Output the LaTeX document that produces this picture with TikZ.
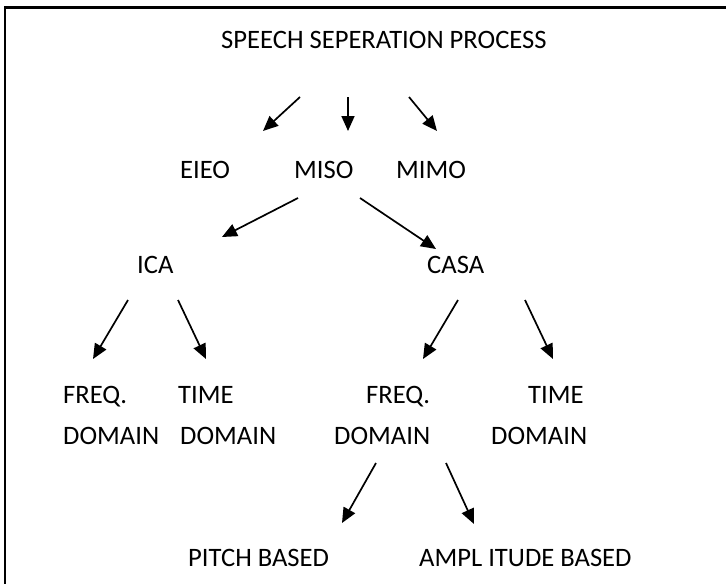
\documentclass[tikz,border=0pt]{standalone}
\usepackage{fontspec}
\setmainfont{Carlito}
\usetikzlibrary{arrows.meta}
\begin{document}
\begin{tikzpicture}[x=1pt,y=-1pt,
  lbl/.style={anchor=base west,inner sep=0pt,font=\fontsize{26.6}{32}\selectfont},
  arr/.style={line width=1.7pt,-{Triangle[length=15pt,width=13pt]}}]
\useasboundingbox (0,0) rectangle (726,584);
% frame (top and left edges)
\draw[line width=2.5pt] (5.2,584) -- (5.2,7.3) -- (726,7.3);

% labels
\node[lbl] (title) at (221,48) {SPEECH SEPERATION PROCESS};
\node[lbl] (eieo) at (180,178) {EIEO};
\node[lbl] (miso) at (294,178) {MISO};
\node[lbl] (mimo) at (396,178) {MIMO};
\node[lbl] (ica)  at (137,273) {ICA};
\node[lbl] (casa) at (427,273) {CASA};
\node[lbl] (icafreq)  at (63,403)  {FREQ.};
\node[lbl] (icafreqb) at (63,444)  {DOMAIN};
\node[lbl] (icatime)  at (178,403) {TIME};
\node[lbl] (icatimeb) at (180,444) {DOMAIN};
\node[lbl] (casafreq)  at (366,403) {FREQ.};
\node[lbl] (casafreqb) at (334,444) {DOMAIN};
\node[lbl] (casatime)  at (528,403) {TIME};
\node[lbl] (casatimeb) at (491,444) {DOMAIN};
\node[lbl] (pitch) at (188,566) {PITCH BASED};
\node[lbl] (ampl)  at (419,566) {AMPL ITUDE BASED};

% arrow end points
\coordinate (t1s) at (300,97);  \coordinate (t1e) at (263,131);
\coordinate (t2s) at (348,97);  \coordinate (t2e) at (348,131);
\coordinate (t3s) at (409,97);  \coordinate (t3e) at (437,131);
\coordinate (m1s) at (298,198); \coordinate (m1e) at (222,237);
\coordinate (m2s) at (360,198); \coordinate (m2e) at (436,249);
\coordinate (i1s) at (128,300); \coordinate (i1e) at (93,359);
\coordinate (i2s) at (178,300); \coordinate (i2e) at (206,359);
\coordinate (c1s) at (458,300); \coordinate (c1e) at (423,359);
\coordinate (c2s) at (525,300); \coordinate (c2e) at (553,359);
\coordinate (f1s) at (376,463); \coordinate (f1e) at (342,523);
\coordinate (f2s) at (446,463); \coordinate (f2e) at (474,524);

% arrows
\foreach \a in {t1,t2,t3,m1,m2,i1,i2,c1,c2,f1,f2}
  \draw[arr] (\a s) -- (\a e);
\end{tikzpicture}
\end{document}
